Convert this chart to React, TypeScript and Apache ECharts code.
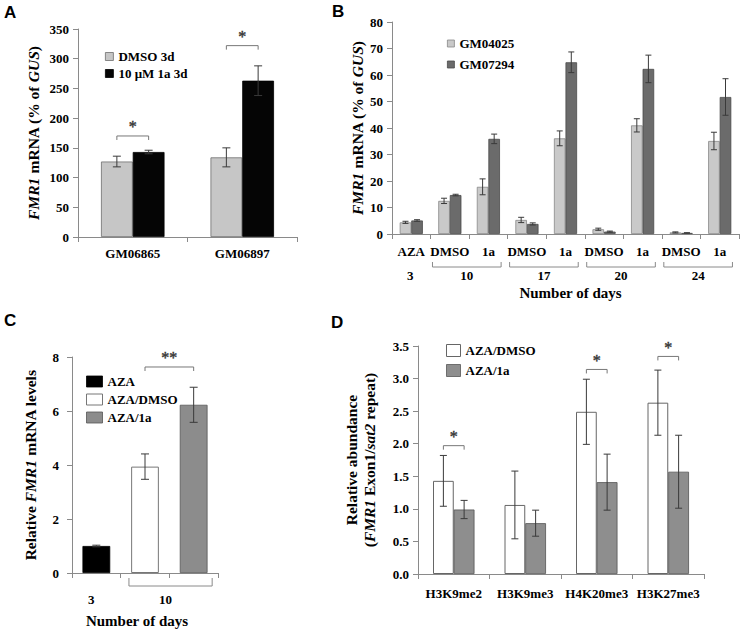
import React, { useEffect, useRef } from "react";
import * as echarts from "echarts";

const FONT = '"Liberation Serif", "Times New Roman", serif';
const SANS = '"Liberation Sans", Arial, sans-serif';
const AX = "#8a8a8a";

// ---- Panel A ----
const catsA = ["GM06865", "GM06897"];
const dmsoA = [127, 134];
const dmsoAErr = [9, 16];
const oneaA = [143, 263];
const oneaAErr = [3, 25];
const sigA = [[0, 170], [1, 322]];

// ---- Panel B ----
const catsB = ["AZA", "DMSO", "1a", "DMSO", "1a", "DMSO", "1a", "DMSO", "1a"];
const gm04025 = [4.4, 12.5, 17.8, 5.3, 36.1, 1.8, 41.0, 0.6, 35.1];
const gm04025Err = [0.4, 1.0, 3.0, 1.0, 2.8, 0.4, 2.5, 0.2, 3.3];
const gm07294 = [5.1, 14.7, 35.9, 3.8, 64.8, 0.9, 62.3, 0.4, 51.7];
const gm07294Err = [0.3, 0.3, 1.8, 0.4, 3.9, 0.2, 5.2, 0.1, 6.9];
const daysB = ["3", "10", "17", "20", "24"];
const dayGroupsB = [[0, 0], [1, 2], [3, 4], [5, 6], [7, 8]];

// ---- Panel C ----
const catsC = ["AZA", "AZA/DMSO", "AZA/1a"];
const valsC = [1.0, 3.94, 6.23];
const errC = [0.03, 0.47, 0.65];
const daysC = ["3", "10"];
const dayGroupsC = [[0, 0], [1, 2]];
const sigC = [[1, 7.63]];

// ---- Panel D ----
const catsD = ["H3K9me2", "H3K9me3", "H4K20me3", "H3K27me3"];
const dmsoD = [1.43, 1.06, 2.49, 2.63];
const dmsoDErr = [0.39, 0.52, 0.5, 0.5];
const oneaD = [0.99, 0.78, 1.41, 1.57];
const oneaDErr = [0.14, 0.2, 0.43, 0.56];
const sigD = [[0, 1.97], [2, 3.14], [3, 3.34]];

const TS = 15.5;
const italic = { fontStyle: "italic", fontWeight: "bold", fontSize: TS, fontFamily: FONT, color: "#000", lineHeight: 18 };
const normal = { fontStyle: "normal", fontWeight: "bold", fontSize: TS, fontFamily: FONT, color: "#000", lineHeight: 18 };

function yAxis(gridIndex: number, min: number, max: number, interval: number, name: string, nameGap: number, margin: number, fmt?: (v: number) => string) {
  return {
    type: "value", gridIndex, min, max, interval, name, nameLocation: "middle", nameGap,
    nameTextStyle: { fontFamily: FONT, fontWeight: "bold", fontSize: TS, color: "#000", lineHeight: 18, rich: { i: italic, n: normal } },
    axisLine: { show: true, lineStyle: { color: AX, width: 1 } },
    axisTick: { show: true, length: 5, lineStyle: { color: AX } },
    splitLine: { show: false },
    axisLabel: { fontFamily: FONT, fontWeight: "bold", fontSize: 13, color: "#000", margin, formatter: fmt },
  };
}

function xAxis(gridIndex: number, data: string[], margin: number, show = true) {
  return {
    type: "category", gridIndex, data,
    axisLine: { show: true, lineStyle: { color: AX, width: 1 } },
    axisTick: { show: true, length: 5, lineStyle: { color: AX } },
    axisLabel: { show, interval: 0, fontFamily: FONT, fontWeight: "bold", fontSize: 13, color: "#000", margin },
  };
}

function errSeries(idx: number, vals: number[], errs: number[], off: number, cap: number) {
  return {
    type: "custom", xAxisIndex: idx, yAxisIndex: idx, clip: false, silent: true, z: 5,
    data: vals.map((v, i) => [i, v, errs[i]]),
    encode: { x: 0, y: 1 },
    renderItem: (params: any, api: any) => {
      const i = api.value(0), v = api.value(1), e = api.value(2);
      const band = api.size([1, 0])[0];
      const x = api.coord([i, v])[0] + off * band;
      const yT = api.coord([i, v + e])[1];
      const yB = api.coord([i, Math.max(0, v - e)])[1];
      const st = { stroke: "#3a3a3a", lineWidth: 1 };
      return {
        type: "group", children: [
          { type: "line", shape: { x1: x, y1: yT, x2: x, y2: yB }, style: st },
          { type: "line", shape: { x1: x - cap, y1: yT, x2: x + cap, y2: yT }, style: st },
          { type: "line", shape: { x1: x - cap, y1: yB, x2: x + cap, y2: yB }, style: st },
        ],
      };
    },
  };
}

function sigSeries(idx: number, data: number[][], offFrom: number, offTo: number, span: number, label: string) {
  return {
    type: "custom", xAxisIndex: idx, yAxisIndex: idx, clip: false, silent: true, z: 6,
    data, encode: { x: 0, y: 1 },
    renderItem: (params: any, api: any) => {
      const c = api.value(0), y = api.value(1);
      const band = api.size([1, 0])[0];
      const x1 = api.coord([c, y])[0] + offFrom * band;
      const x2 = api.coord([c + span, y])[0] + offTo * band;
      const yy = api.coord([c, y])[1];
      return {
        type: "group", children: [
          { type: "polyline", shape: { points: [[x1, yy + 4], [x1, yy], [x2, yy], [x2, yy + 4]] }, style: { stroke: "#777", fill: "none", lineWidth: 1 } },
          { type: "text", style: { text: label, x: (x1 + x2) / 2, y: yy - 1, align: "center", verticalAlign: "bottom", font: `16px ${FONT}`, fill: "#333", stroke: "#333", lineWidth: 0.4 } },
        ],
      };
    },
  };
}

function daysSeries(idx: number, groups: number[][], labels: string[], cfg: any) {
  return {
    type: "custom", xAxisIndex: idx, yAxisIndex: idx, clip: false, silent: true, z: 6,
    data: groups.map((g) => [g[0], 0, g[1]]), encode: { x: 0, y: 1 },
    renderItem: (params: any, api: any) => {
      const s = api.value(0), e = api.value(2);
      const band = api.size([1, 0])[0];
      const [xs, y0] = api.coord([s, 0]);
      const xe = api.coord([e, 0])[0];
      const children: any[] = [];
      let cx = xs;
      if (e > s) {
        const x1 = xs - band / 2 + cfg.startOff * band;
        const x2 = xe + band / 2 - cfg.endOff * band;
        cx = (x1 + x2) / 2 + cfg.labelShift;
        children.push({ type: "polyline", shape: { points: [[x1, y0 + cfg.bTop], [x1, y0 + cfg.bBot], [x2, y0 + cfg.bBot], [x2, y0 + cfg.bTop]] }, style: { stroke: "#8a8a8a", fill: "none", lineWidth: 1 } });
      } else {
        cx = xs + cfg.singleShift;
      }
      children.push({ type: "text", style: { text: labels[params.dataIndex], x: cx, y: y0 + cfg.labelY, align: "center", verticalAlign: "middle", font: `bold 13px ${FONT}`, fill: "#000" } });
      return { type: "group", children };
    },
  };
}

const legendText = { fontFamily: FONT, fontWeight: "bold", fontSize: 13, color: "#000" };
const gmTitle = "{i|FMR1}{n| mRNA (% of }{i|GUS}{n|)}";

export default function App() {
  const ref = useRef<HTMLDivElement>(null);
  useEffect(() => {
    if (!ref.current) return;
    const chart = echarts.init(ref.current, null, { renderer: "svg" });
    const cSeries = catsC.map((name, k) => ({
      type: "bar", name, xAxisIndex: 2, yAxisIndex: 2, stack: "c", barCategoryGap: "43%",
      data: valsC.map((v, i) => (i === k ? v : "-")),
      itemStyle: [
        { color: "#000000", borderColor: "#000", borderWidth: 0.8 },
        { color: "#ffffff", borderColor: "#777", borderWidth: 1 },
        { color: "#8c8c8c", borderColor: "#555", borderWidth: 0.8 },
      ][k],
    }));
    const option: any = {
      animation: false,
      backgroundColor: "#ffffff",
      textStyle: { fontFamily: FONT },
      grid: [
        { left: 78, top: 29, width: 219, height: 208, outerBoundsMode: "none" },
        { left: 392, top: 22, width: 347, height: 212, outerBoundsMode: "none" },
        { left: 72, top: 357, width: 146, height: 216, outerBoundsMode: "none" },
        { left: 418, top: 346, width: 286, height: 228, outerBoundsMode: "none" },
      ],
      xAxis: [
        xAxis(0, catsA, 10),
        { ...xAxis(1, catsB, 11), name: "Number of days", nameLocation: "middle", nameGap: 51, nameTextStyle: { fontFamily: FONT, fontWeight: "bold", fontSize: 15, color: "#000", padding: [0, 0, 0, 10] } },
        { ...xAxis(2, catsC, 10, false), name: "Number of days", nameLocation: "middle", nameGap: 40, nameTextStyle: { fontFamily: FONT, fontWeight: "bold", fontSize: 15, color: "#000", padding: [0, 16, 0, 0] } },
        xAxis(3, catsD, 13),
      ],
      yAxis: [
        yAxis(0, 0, 350, 50, gmTitle, 36, 9),
        yAxis(1, 0, 80, 10, gmTitle, 25, 9),
        yAxis(2, 0, 8, 2, "{n|Relative }{i|FMR1}{n| mRNA levels}", 33, 13),
        yAxis(3, 0, 3.5, 0.5, "{n|Relative abundance}\n{n|(}{i|FMR1}{n| Exon1/}{i|sat2}{n| repeat)}", 40, 9, (v: number) => v.toFixed(1)),
      ],
      legend: [
        {
          orient: "vertical", left: 105, top: 50, padding: 0, itemGap: 4, itemWidth: 8, itemHeight: 8, icon: "rect",
          textStyle: legendText, selectedMode: false,
          data: [
            { name: "DMSO 3d", itemStyle: { color: "#c6c6c6", borderColor: "#6f6f6f", borderWidth: 0.8 } },
            { name: "10 μM 1a 3d", itemStyle: { color: "#050505", borderColor: "#000", borderWidth: 0.8 } },
          ],
        },
        {
          orient: "vertical", left: 447, top: 37, padding: 0, itemGap: 8, itemWidth: 7, itemHeight: 7, icon: "rect",
          textStyle: legendText, selectedMode: false,
          data: [
            { name: "GM04025", itemStyle: { color: "#c9c9c9", borderColor: "#888", borderWidth: 0.8 } },
            { name: "GM07294", itemStyle: { color: "#6b6b6b", borderColor: "#4a4a4a", borderWidth: 0.8 } },
          ],
        },
        {
          orient: "vertical", left: 86, top: 375, padding: 0, itemGap: 5, itemWidth: 16, itemHeight: 11, icon: "rect",
          textStyle: legendText, selectedMode: false,
          data: [
            { name: "AZA", itemStyle: { color: "#000", borderColor: "#000", borderWidth: 0.8 } },
            { name: "AZA/DMSO", itemStyle: { color: "#fff", borderColor: "#777", borderWidth: 1 } },
            { name: "AZA/1a", itemStyle: { color: "#8c8c8c", borderColor: "#555", borderWidth: 0.8 } },
          ],
        },
        {
          orient: "vertical", left: 446, top: 344, padding: 0, itemGap: 7, itemWidth: 14, itemHeight: 12, icon: "rect",
          textStyle: legendText, selectedMode: false,
          formatter: (n: string) => n.replace("#D", ""),
          data: [
            { name: "AZA/DMSO#D", itemStyle: { color: "#fff", borderColor: "#666", borderWidth: 1 } },
            { name: "AZA/1a#D", itemStyle: { color: "#8e8e8e", borderColor: "#555", borderWidth: 0.8 } },
          ],
        },
      ],
      graphic: [
        { type: "text", left: 4, top: 4, style: { text: "A", font: `bold 17px ${SANS}`, fill: "#000" } },
        { type: "text", left: 332, top: 3, style: { text: "B", font: `bold 17px ${SANS}`, fill: "#000" } },
        { type: "text", left: 4, top: 312, style: { text: "C", font: `bold 17px ${SANS}`, fill: "#000" } },
        { type: "text", left: 331, top: 314, style: { text: "D", font: `bold 17px ${SANS}`, fill: "#000" } },
      ],
      series: [
        { type: "bar", name: "DMSO 3d", xAxisIndex: 0, yAxisIndex: 0, data: dmsoA, barGap: "0%", barCategoryGap: "42%", itemStyle: { color: "#c6c6c6", borderColor: "#6f6f6f", borderWidth: 0.8 } },
        { type: "bar", name: "10 μM 1a 3d", xAxisIndex: 0, yAxisIndex: 0, data: oneaA, barGap: "0%", barCategoryGap: "42%", itemStyle: { color: "#050505", borderColor: "#000", borderWidth: 0.8 } },
        errSeries(0, dmsoA, dmsoAErr, -0.145, 4),
        errSeries(0, oneaA, oneaAErr, 0.145, 4),
        sigSeries(0, sigA, -0.145, 0.145, 0, "*"),

        { type: "bar", name: "GM04025", xAxisIndex: 1, yAxisIndex: 1, data: gm04025, barGap: "0%", barCategoryGap: "40%", itemStyle: { color: "#c9c9c9", borderColor: "#888", borderWidth: 0.8 } },
        { type: "bar", name: "GM07294", xAxisIndex: 1, yAxisIndex: 1, data: gm07294, barGap: "0%", barCategoryGap: "40%", itemStyle: { color: "#6b6b6b", borderColor: "#4a4a4a", borderWidth: 0.8 } },
        errSeries(1, gm04025, gm04025Err, -0.15, 3),
        errSeries(1, gm07294, gm07294Err, 0.15, 3),
        daysSeries(1, dayGroupsB, daysB, { startOff: 0.05, endOff: 0.17, bTop: 28, bBot: 33, labelY: 41, labelShift: 0, singleShift: -1 }),

        ...cSeries,
        errSeries(2, valsC, errC, 0, 4),
        sigSeries(2, sigC, 0, 0, 1, "**"),
        daysSeries(2, dayGroupsC, daysC, { startOff: 0.17, endOff: 0.12, bTop: 5, bBot: 13, labelY: 26, labelShift: -5, singleShift: -5 }),

        { type: "bar", name: "AZA/DMSO#D", xAxisIndex: 3, yAxisIndex: 3, data: dmsoD, barGap: "0%", barCategoryGap: "42%", itemStyle: { color: "#ffffff", borderColor: "#666", borderWidth: 1 } },
        { type: "bar", name: "AZA/1a#D", xAxisIndex: 3, yAxisIndex: 3, data: oneaD, barGap: "0%", barCategoryGap: "42%", itemStyle: { color: "#8e8e8e", borderColor: "#555", borderWidth: 0.8 } },
        errSeries(3, dmsoD, dmsoDErr, -0.145, 3.5),
        errSeries(3, oneaD, oneaDErr, 0.145, 3.5),
        sigSeries(3, sigD, -0.145, 0.145, 0, "*"),
      ],
    };
    chart.setOption(option);
    return () => chart.dispose();
  }, []);
  return <div ref={ref} style={{ position: "absolute", left: 0, top: 0, width: 751, height: 632, background: "#fff" }} />;
}
